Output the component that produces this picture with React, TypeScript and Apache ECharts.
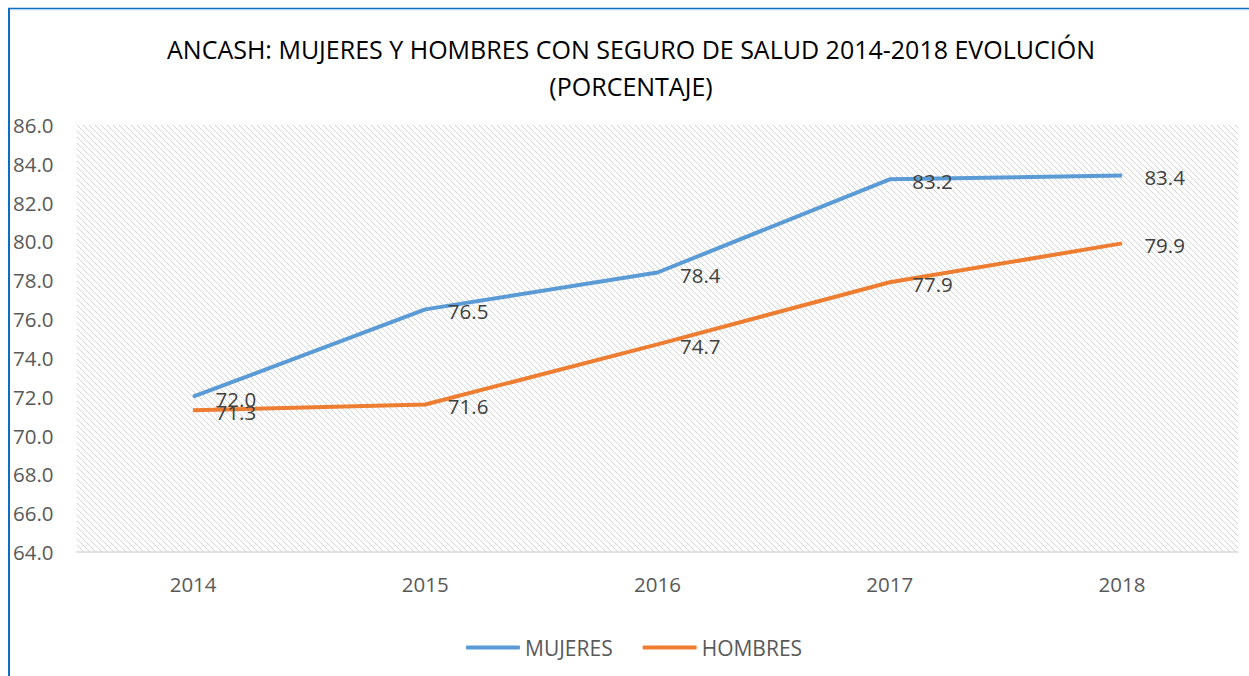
import React, { useEffect, useRef } from "react";
import * as echarts from "echarts";

const categories = ["2014", "2015", "2016", "2017", "2018"];
const mujeres = [72.0, 76.5, 78.4, 83.2, 83.4];
const hombres = [71.3, 71.6, 74.7, 77.9, 79.9];
const yMin = 64;
const yMax = 86;
const yInterval = 2;
const titleLines = [
  "ANCASH: MUJERES Y HOMBRES CON SEGURO DE SALUD 2014-2018 EVOLUCIÓN",
  "(PORCENTAJE)",
];
const seriesNames = ["MUJERES", "HOMBRES"];

function makeHatch(): HTMLCanvasElement {
  const c = document.createElement("canvas");
  c.width = 6;
  c.height = 6;
  const ctx = c.getContext("2d")!;
  ctx.fillStyle = "#ffffff";
  ctx.fillRect(0, 0, 6, 6);
  for (let i = 0; i < 6; i++) {
    ctx.fillStyle = "#d3d3d3";
    ctx.fillRect(i, i, 1, 1);
  }
  return c;
}

export default function App() {
  const ref = useRef<HTMLDivElement>(null);
  useEffect(() => {
    if (!ref.current) return;
    const chart = echarts.init(ref.current, undefined, { renderer: "svg" });
    const numFont = "'Open Sans', 'Noto Sans', sans-serif";
    const label = {
      show: true,
      position: "right" as const,
      distance: 22,
      offset: [0, 2],
      color: "#404040",
      fontSize: 20.5,
      fontFamily: numFont,
      formatter: (p: any) => Number(p.value).toFixed(1),
    };
    chart.setOption({
      animation: false,
      backgroundColor: "#ffffff",
      graphic: [
        {
          type: "line",
          shape: { x1: 8, y1: 8.5, x2: 1249, y2: 8.5 },
          style: { stroke: "#0B6EC2", lineWidth: 1.5 },
        },
        {
          type: "line",
          shape: { x1: 9, y1: 9.8, x2: 1249, y2: 9.8 },
          style: { stroke: "#B4D2EE", lineWidth: 1 },
        },
        {
          type: "line",
          shape: { x1: 9, y1: 8, x2: 9, y2: 676 },
          style: { stroke: "#0B6EC2", lineWidth: 2 },
        },
        {
          type: "text",
          x: 631,
          y: 30,
          style: {
            text: titleLines.join("\n"),
            align: "center",
            verticalAlign: "top",
            fill: "#000000",
            fontSize: 25,
            lineHeight: 37,
            fontFamily: "'Open Sans', sans-serif",
          },
        },
      ],
      grid: {
        left: 77,
        right: 11,
        top: 125,
        bottom: 124,
        show: true,
        borderWidth: 0,
        backgroundColor: { image: makeHatch(), repeat: "repeat" },
      },
      legend: {
        left: 461,
        top: 632,
        icon: "roundRect",
        itemWidth: 54,
        itemHeight: 4,
        itemGap: 30,
        data: seriesNames,
        textStyle: { color: "#595959", fontSize: 21, fontFamily: numFont },
      },
      xAxis: {
        type: "category",
        data: categories,
        boundaryGap: true,
        axisLine: { show: true, lineStyle: { color: "#d9d9d9", width: 1.5 } },
        axisTick: { show: false },
        axisLabel: {
          color: "#595959",
          fontSize: 20.5,
          fontFamily: numFont,
          margin: 21,
        },
        splitLine: { show: false },
      },
      yAxis: {
        type: "value",
        min: yMin,
        max: yMax,
        interval: yInterval,
        axisLine: { show: false },
        axisTick: { show: false },
        splitLine: { show: false },
        axisLabel: {
          color: "#595959",
          fontSize: 20.5,
          fontFamily: numFont,
          align: "left",
          margin: 64,
          formatter: (v: number) => v.toFixed(1),
        },
      },
      series: [
        {
          name: seriesNames[0],
          type: "line",
          data: mujeres,
          symbol: "circle",
          symbolSize: 1,
          color: "#5B9BD5",
          lineStyle: { width: 4, color: "#5B9BD5" },
          itemStyle: { color: "#5B9BD5" },
          label,
        },
        {
          name: seriesNames[1],
          type: "line",
          data: hombres,
          symbol: "circle",
          symbolSize: 1,
          color: "#ED7D31",
          lineStyle: { width: 4, color: "#ED7D31" },
          itemStyle: { color: "#ED7D31" },
          label,
        },
      ],
    });
    return () => chart.dispose();
  }, []);
  return (
    <div
      ref={ref}
      style={{ position: "fixed", left: 0, top: 0, width: 1249, height: 676 }}
    />
  );
}
